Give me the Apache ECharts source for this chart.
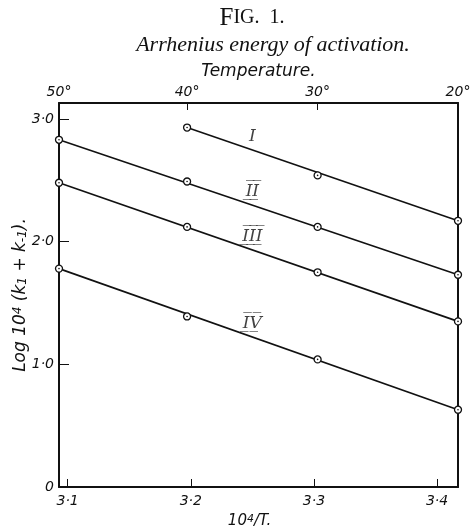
<!DOCTYPE html>
<html><head><meta charset="utf-8">
<script src="https://cdn.jsdelivr.net/npm/echarts@6/dist/echarts.min.js"></script>
<style>html,body{margin:0;padding:0;background:#fff}#c{width:476px;height:528px}</style>
</head><body><div id="c"></div>
<script>
// ---- data ----
const tempsC = [50, 40, 30, 20];                 // top axis temperatures (°C)
const tempsX = [3.093, 3.197, 3.303, 3.417];     // where each temperature sits on the 10^4/T axis
const xTicks = [3.1, 3.2, 3.3, 3.4];             // bottom axis ticks
const yTicks = [0, 1, 2, 3];                     // left axis ticks
const seriesNames = ['I', 'I\u0305\u0332I\u0305\u0332', 'I\u0305\u0332I\u0305\u0332I\u0305\u0332', 'I\u0305\u0332V\u0305\u0332'];
const valuesI   = [null, 2.93, 2.54, 2.17];
const valuesII  = [2.83, 2.49, 2.12, 1.73];
const valuesIII = [2.48, 2.12, 1.75, 1.35];
const valuesIV  = [1.78, 1.39, 1.04, 0.63];
const labelX = 3.25;

const allValues = [valuesI, valuesII, valuesIII, valuesIV];

const ink = '#111';
const fmtDot = v => v === 0 ? '0' : v.toFixed(1).replace('.', '·');
const tickFont = {fontFamily: 'DejaVu Sans', fontStyle: 'italic', fontSize: 14, color: ink};

const series = [];
allValues.forEach((vals, i) => {
  const pts = vals.map((v, j) => v == null ? null : [tempsX[j], v]).filter(p => p);
  const a = pts[0], b = pts[pts.length - 1];
  series.push({type: 'line', data: [a, b], symbol: 'none', silent: true,
    lineStyle: {color: ink, width: 1.6}, z: 2});
  series.push({type: 'scatter', data: pts, symbol: 'circle', symbolSize: 7,
    itemStyle: {color: '#fff', borderColor: ink, borderWidth: 1.3, opacity: 1}, z: 3});
  series.push({type: 'scatter', data: pts, symbol: 'circle', symbolSize: 1.6,
    itemStyle: {color: ink, opacity: 1}, z: 4});
  const ly = a[1] + (b[1] - a[1]) * (labelX - a[0]) / (b[0] - a[0]);
  series.push({type: 'scatter', data: [[labelX, ly]], symbolSize: 0, z: 5,
    label: {show: true, position: 'top', distance: 5, formatter: seriesNames[i],
      fontFamily: 'DejaVu Serif', fontStyle: 'italic', fontSize: 17, color: ink}});
});

const chart = echarts.init(document.getElementById('c'), null, {renderer: 'canvas'});
chart.setOption({
  animation: false,
  backgroundColor: '#fff',
  graphic: [
    {type: 'text', x: 252, y: 18, style: {text: '{a|F}{b|IG.  1.}', align: 'center', verticalAlign: 'middle',
      rich: {
        a: {fontFamily: 'Liberation Serif', fontSize: 25, fill: ink},
        b: {fontFamily: 'Liberation Serif', fontSize: 20, fill: ink}}}},
    {type: 'text', x: 273, y: 45, style: {text: 'Arrhenius energy of activation.', align: 'center', verticalAlign: 'middle',
      fontFamily: 'Liberation Serif', fontStyle: 'italic', fontSize: 22, fill: ink}}
  ],
  grid: {left: 59, right: 18, top: 103, bottom: 41, outerBoundsMode: 'none', containLabel: false},
  xAxis: [
    {type: 'value', position: 'bottom', min: 3.093, max: 3.417,
      axisLine: {show: true, onZero: false, lineStyle: {color: ink, width: 2}},
      axisTick: {show: true, inside: true, length: 8, customValues: xTicks, lineStyle: {color: ink, width: 1}},
      axisLabel: Object.assign({customValues: xTicks, margin: 7, formatter: fmtDot}, tickFont),
      splitLine: {show: false},
      name: '10{s|4}/T.', nameLocation: 'middle', nameGap: 27,
      nameTextStyle: {fontFamily: 'DejaVu Sans', fontStyle: 'italic', fontSize: 15, color: ink, padding: [0, 18, 0, 0],
        rich: {s: {fontFamily: 'DejaVu Sans', fontStyle: 'italic', fontSize: 11, color: ink, verticalAlign: 'top'}}}},
    {type: 'value', position: 'top', min: 3.093, max: 3.417,
      axisLine: {show: true, onZero: false, lineStyle: {color: ink, width: 2}},
      axisTick: {show: true, inside: true, length: 7, customValues: tempsX, lineStyle: {color: ink, width: 1}},
      axisLabel: Object.assign({customValues: tempsX, margin: 4,
        formatter: v => tempsC[tempsX.findIndex(x => Math.abs(x - v) < 1e-6)] + '°'}, tickFont),
      splitLine: {show: false},
      name: 'Temperature.', nameLocation: 'middle', nameGap: 23,
      nameTextStyle: {fontFamily: 'DejaVu Sans', fontStyle: 'italic', fontSize: 17, color: ink}}
  ],
  yAxis: [
    {type: 'value', position: 'left', min: 0, max: 3.13,
      axisLine: {show: true, onZero: false, lineStyle: {color: ink, width: 2}},
      axisTick: {show: true, inside: true, length: 10, customValues: yTicks, lineStyle: {color: ink, width: 1}},
      axisLabel: Object.assign({customValues: yTicks, margin: 5, formatter: fmtDot}, tickFont),
      splitLine: {show: false},
      name: 'Log 10{s|4} (k{b|1} + k{b|-1}).', nameLocation: 'middle', nameGap: 30, nameMoveOverlap: false,
      nameTextStyle: {fontFamily: 'DejaVu Sans', fontStyle: 'italic', fontSize: 17, color: ink,
        rich: {
          s: {fontFamily: 'DejaVu Sans', fontStyle: 'italic', fontSize: 12, color: ink, verticalAlign: 'top'},
          b: {fontFamily: 'DejaVu Sans', fontStyle: 'italic', fontSize: 12, color: ink, verticalAlign: 'bottom'}}}},
    {type: 'value', position: 'right', min: 0, max: 3.13,
      axisLine: {show: true, onZero: false, lineStyle: {color: ink, width: 2}},
      axisTick: {show: false}, axisLabel: {show: false}, splitLine: {show: false}}
  ],
  series: series
});
</script></body></html>
